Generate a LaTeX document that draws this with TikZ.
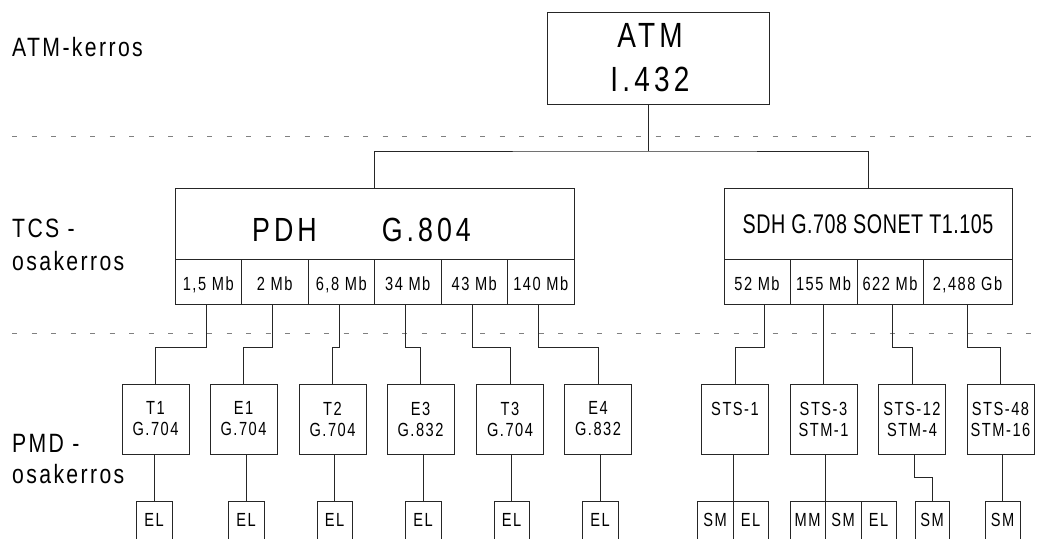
\documentclass[tikz,border=0pt]{standalone}
\usepackage{fontspec}
\newfontfamily\fsmall[FakeStretch=0.77,LetterSpace=8]{Liberation Sans}
\newfontfamily\flab[FakeStretch=0.8,LetterSpace=9]{Liberation Sans}
\newfontfamily\fbig[FakeStretch=0.8,LetterSpace=12]{Liberation Sans}
\newfontfamily\fsdh[FakeStretch=0.73,LetterSpace=2]{Liberation Sans}
\begin{document}
\begin{tikzpicture}[x=1pt,y=-1pt,
  ln/.style={line width=0.8pt, draw=black!85},
  bx/.style={draw=black!85, line width=0.8pt, inner sep=0pt, outer sep=0pt, rectangle},
  cell/.style={bx, minimum height=45pt, font=\fontsize{19}{21}\fsmall, text height=17pt, text depth=0pt},
  pmdbox/.style={bx, minimum width=67pt, minimum height=70pt, align=center, font=\fontsize{19}{21}\fsmall},
  elbox/.style={bx, minimum height=38pt, font=\fontsize{19}{21}\fsmall, text height=13.5pt, text depth=0pt},
  layer/.style={anchor=base west, align=left, inner sep=0pt},
  sep/.style={draw=black!50, line width=0.8pt, dash pattern=on 5pt off 14.5pt}
]
\useasboundingbox (0,0) rectangle (1049,538);

% layer separators
\draw[sep] (12,136) -- (1042,136);
\draw[sep] (12,333) -- (1042,333);

% layer labels (anchor at the baseline of the last line)
\node[layer, font=\fontsize{26.5}{33}\flab] (l1) at (12,56) {ATM-kerros};
\node[layer, font=\fontsize{26.5}{33}\flab] (l2) at (12,270) {TCS -\\osakerros};
\node[layer, font=\fontsize{26.5}{31}\flab] (l3) at (12,483) {PMD -\\osakerros};

% ATM
\node[bx, minimum width=222pt, minimum height=92pt] (atm) at (658,58) {};
\node[inner sep=0pt, align=center, font=\fontsize{35}{44}\fbig] (atmt) at (650,57.5) {ATM\\I.432};

% PDH
\node[bx, minimum width=399pt, minimum height=71pt] (pdh) at (374.5,223.5) {};
\node[anchor=base west, inner sep=0pt, font=\fontsize{33.5}{40}\fbig] (pdht) at (252,241) {PDH\hspace{65pt}G.804};
\node[cell, minimum width=66.5pt] (c1) at (208.25,281.5) {1,5 Mb};
\node[cell, minimum width=66.5pt] (c2) at (274.75,281.5) {2 Mb};
\node[cell, minimum width=66.5pt] (c3) at (341.25,281.5) {6,8 Mb};
\node[cell, minimum width=66.5pt] (c4) at (407.75,281.5) {34 Mb};
\node[cell, minimum width=66.5pt] (c5) at (474.25,281.5) {43 Mb};
\node[cell, minimum width=66.5pt] (c6) at (540.75,281.5) {140 Mb};

% SDH
\node[bx, minimum width=288pt, minimum height=71pt, font=\fontsize{27}{32}\fsdh, text height=19.5pt, text depth=0pt] (sdh) at (868,223.5) {SDH G.708 SONET T1.105};
\node[cell, minimum width=66pt] (s1) at (757,281.5) {52 Mb};
\node[cell, minimum width=67pt] (s2) at (823.5,281.5) {155 Mb};
\node[cell, minimum width=66pt] (s3) at (890,281.5) {622 Mb};
\node[cell, minimum width=89pt] (s4) at (967.5,281.5) {2,488 Gb};

% PMD boxes
\node[pmdbox] (t1) at (155.5,419) {T1\\G.704};
\node[pmdbox] (e1) at (243.5,419) {E1\\G.704};
\node[pmdbox] (t2) at (332.5,419) {T2\\G.704};
\node[pmdbox] (e3) at (420.5,419) {E3\\G.832};
\node[pmdbox] (t3) at (510,419) {T3\\G.704};
\node[pmdbox] (e4) at (598,419) {E4\\G.832};
\node[pmdbox] (sts1) at (735,419) {STS-1\\\mbox{}};
\node[pmdbox] (sts3) at (823.5,419) {STS-3\\STM-1};
\node[pmdbox] (sts12) at (912,419) {STS-12\\STM-4};
\node[pmdbox] (sts48) at (1000.5,419) {STS-48\\STM-16};

% medium boxes
\node[elbox, minimum width=36pt] (el1) at (154,520) {EL};
\node[elbox, minimum width=36pt] (el2) at (246,520) {EL};
\node[elbox, minimum width=35pt] (el3) at (334.5,520) {EL};
\node[elbox, minimum width=36pt] (el4) at (423,520) {EL};
\node[elbox, minimum width=35pt] (el5) at (511.5,520) {EL};
\node[elbox, minimum width=36pt] (el6) at (600,520) {EL};
\node[elbox, minimum width=36pt] (sm1) at (715,520) {SM};
\node[elbox, minimum width=35pt] (el7) at (750.5,520) {EL};
\node[elbox, minimum width=35pt] (mm2) at (807.5,520) {MM};
\node[elbox, minimum width=36pt] (sm2) at (843,520) {SM};
\node[elbox, minimum width=35pt] (el8) at (878.5,520) {EL};
\node[elbox, minimum width=34pt] (sm3) at (932,520) {SM};
\node[elbox, minimum width=35pt] (sm4) at (1002.5,520) {SM};

% connectors ATM -> TCS
\draw[ln] ([xshift=-10pt]atm.south) -- ++(0,47) coordinate (jt);
\draw[ln] (pdh.north) |- (jt) -| (sdh.north);

% TCS -> PMD
\draw[ln] ([xshift=-2pt]c1.south) -- ++(0,43) -| (t1.north);
\draw[ln] ([xshift=-2pt]c2.south) -- ++(0,43) -| (e1.north);
\draw[ln] ([xshift=-2pt]c3.south) -- ++(0,43) -| (t2.north);
\draw[ln] ([xshift=-2pt]c4.south) -- ++(0,43) -| (e3.north);
\draw[ln] ([xshift=-2pt]c5.south) -- ++(0,43) -| (t3.north);
\draw[ln] ([xshift=-2pt]c6.south) -- ++(0,43) -| (e4.north);
\draw[ln] ([xshift=7pt]s1.south) -- ++(0,43) -| (sts1.north);
\draw[ln] (sts3.north) -- (sts3.north |- s2.south);
\draw[ln] ([xshift=2pt]s3.south) -- ++(0,43) -| (sts12.north);
\draw[ln] (s4.south) -- ++(0,43) -| (sts48.north);

% PMD -> media
\draw[ln] (el1.north) -- (el1.north |- t1.south);
\draw[ln] (el2.north) -- (el2.north |- e1.south);
\draw[ln] (el3.north) -- (el3.north |- t2.south);
\draw[ln] (el4.north) -- (el4.north |- e3.south);
\draw[ln] (el5.north) -- (el5.north |- t3.south);
\draw[ln] (el6.north) -- (el6.north |- e4.south);
\draw[ln] (sm1.north east) -- (sm1.north east |- sts1.south);
\draw[ln] (mm2.north east) -- (mm2.north east |- sts3.south);
\draw[ln] ([xshift=2pt]sts12.south) -- ++(0,23) -| (sm3.north);
\draw[ln] (sm4.north) -- (sm4.north |- sts48.south);
\end{tikzpicture}
\end{document}
